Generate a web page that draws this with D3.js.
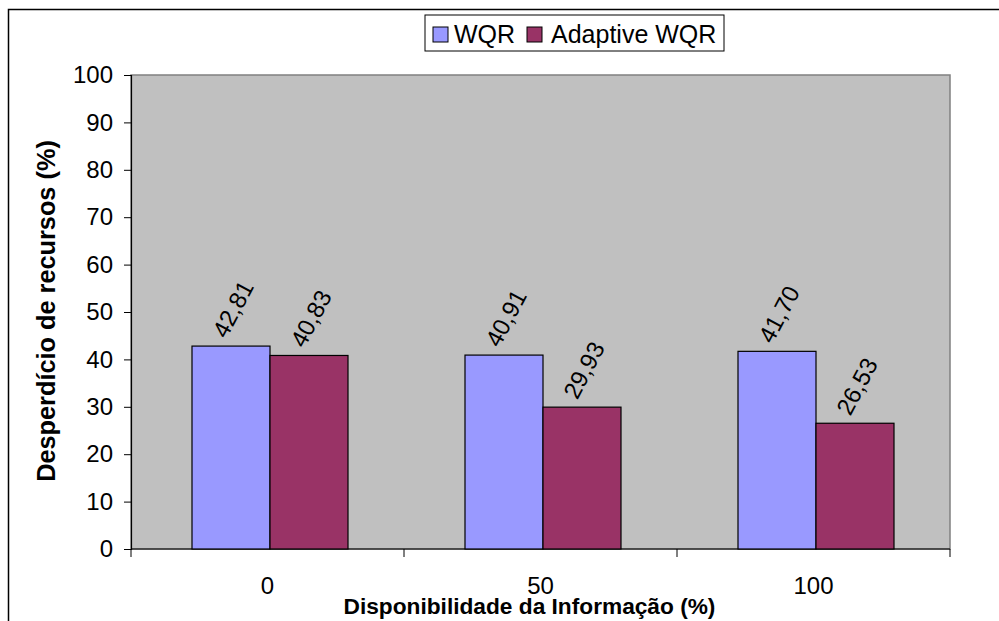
<!DOCTYPE html>
<html>
<head>
<meta charset="utf-8">
<script src="https://cdn.jsdelivr.net/npm/d3@7"></script>
<style>
  body { margin: 0; background: #fff; }
  svg { display: block; font-family: "Liberation Sans", Arial, sans-serif; }
</style>
</head>
<body>
<div id="viz"></div>
<script>
const width = 999;
const height = 621;

// data
const categories = ["0", "50", "100"];
const seriesNames = ["WQR", "Adaptive WQR"];
const wqr = [42.81, 40.91, 41.70];
const adaptive = [40.83, 29.93, 26.53];
const yTicks = [0, 10, 20, 30, 40, 50, 60, 70, 80, 90, 100];
const colors = ["#9999FF", "#993366"];

const svg = d3.select("#viz")
    .append("svg")
    .attr("width", width)
    .attr("height", height);

// outer chart frame
svg.append("rect")
    .attr("x", 8.5).attr("y", 9.5)
    .attr("width", 1000).attr("height", 700)
    .attr("fill", "white")
    .attr("stroke", "black")
    .attr("stroke-width", 1.5);

const margin = {top: 75, right: 49, left: 131, bottom: 72};
const innerWidth = width - margin.left - margin.right;
const innerHeight = height - margin.top - margin.bottom;

const g = svg.append("g")
    .attr("transform", `translate(${margin.left}, ${margin.top})`);

const xScale = d3.scaleBand()
    .domain(categories)
    .range([0, innerWidth])
    .paddingInner(0)
    .paddingOuter(0);

// gap width 150%: bar = band / 3.5
const barW = xScale.bandwidth() / 3.5;
const xSub = d3.scaleBand()
    .domain(seriesNames)
    .range([barW * 0.75 + 2.5, xScale.bandwidth() - barW * 0.75 + 2.5]);

const yScale = d3.scaleLinear()
    .domain([0, 100])
    .range([innerHeight, 0]);

// plot area
g.append("rect")
    .attr("x", 0).attr("y", 0)
    .attr("width", innerWidth).attr("height", innerHeight)
    .attr("fill", "#C0C0C0")
    .attr("stroke", "#808080")
    .attr("stroke-width", 1.5);

// y axis
const yAxis = d3.axisLeft(yScale)
    .tickValues(yTicks)
    .tickSize(7)
    .tickPadding(11)
    .tickFormat(d3.format("d"));

const yAxisG = g.append("g").call(yAxis);
yAxisG.select(".domain").attr("stroke", "black").attr("stroke-width", 1.2);
yAxisG.selectAll(".tick line").attr("stroke", "black");
yAxisG.selectAll("text")
    .attr("font-size", 24)
    .attr("font-family", "Liberation Sans, Arial, sans-serif")
    .attr("fill", "black");

// x axis: ticks on category boundaries
const xAxisG = g.append("g")
    .attr("transform", `translate(0, ${innerHeight})`);
xAxisG.append("line")
    .attr("x1", 0).attr("x2", innerWidth)
    .attr("stroke", "black").attr("stroke-width", 1.2);
const bounds = categories.map(c => xScale(c)).concat([innerWidth]);
xAxisG.selectAll(".xtick").data(bounds)
    .enter().append("line")
    .attr("x1", d => d).attr("x2", d => d)
    .attr("y1", 0).attr("y2", 8)
    .attr("stroke", "black");
xAxisG.selectAll(".xlabel").data(categories)
    .enter().append("text")
    .attr("x", d => xScale(d) + xScale.bandwidth() / 2)
    .attr("y", 45)
    .attr("text-anchor", "middle")
    .attr("font-size", 24)
    .text(d => d);

// bars
const rows = categories.map((c, i) => ({cat: c, values: [wqr[i], adaptive[i]]}));
const groups = g.selectAll(".grp").data(rows)
    .enter().append("g")
    .attr("transform", d => `translate(${xScale(d.cat)}, 0)`);

groups.selectAll("rect")
    .data(d => d.values.map((v, j) => ({name: seriesNames[j], value: v, j})))
    .enter().append("rect")
    .attr("x", d => xSub(d.name))
    .attr("y", d => yScale(d.value))
    .attr("width", xSub.bandwidth())
    .attr("height", d => innerHeight - yScale(d.value))
    .attr("fill", d => colors[d.j])
    .attr("stroke", "black")
    .attr("stroke-width", 1.2);

// rotated value labels
groups.selectAll(".lbl")
    .data(d => d.values.map((v, j) => ({name: seriesNames[j], value: v})))
    .enter().append("text")
    .attr("transform", d => {
        const cx = xSub(d.name) + xSub.bandwidth() / 2 + 2;
        const cy = yScale(d.value) - 37;
        return `translate(${cx}, ${cy}) rotate(-62)`;
    })
    .attr("text-anchor", "middle")
    .attr("dy", "0.35em")
    .attr("font-size", 24)
    .text(d => d.value.toFixed(2).replace(".", ","));

// axis titles
g.append("text")
    .attr("x", innerWidth / 2 - 11)
    .attr("y", innerHeight + 65)
    .attr("text-anchor", "middle")
    .attr("font-size", 22.7)
    .attr("font-weight", "bold")
    .text("Disponibilidade da Informação (%)");

g.append("text")
    .attr("transform", `translate(-76, ${innerHeight / 2 - 1}) rotate(-90)`)
    .attr("text-anchor", "middle")
    .attr("font-size", 25.3)
    .attr("font-weight", "bold")
    .text("Desperdício de recursos (%)");

// legend
const legend = svg.append("g").attr("transform", "translate(425, 15)");
legend.append("rect")
    .attr("width", 299).attr("height", 36)
    .attr("fill", "white").attr("stroke", "black");
const legendX = [8, 102];
const items = legend.selectAll(".item").data(seriesNames)
    .enter().append("g")
    .attr("transform", (d, i) => `translate(${legendX[i]}, 0)`);
items.append("rect")
    .attr("x", 0).attr("y", 12)
    .attr("width", 15).attr("height", 15)
    .attr("fill", (d, i) => colors[i])
    .attr("stroke", "black");
items.append("text")
    .attr("x", (d, i) => i === 0 ? 21 : 24).attr("y", 28)
    .attr("font-size", 25)
    .text(d => d);
</script>
</body>
</html>
